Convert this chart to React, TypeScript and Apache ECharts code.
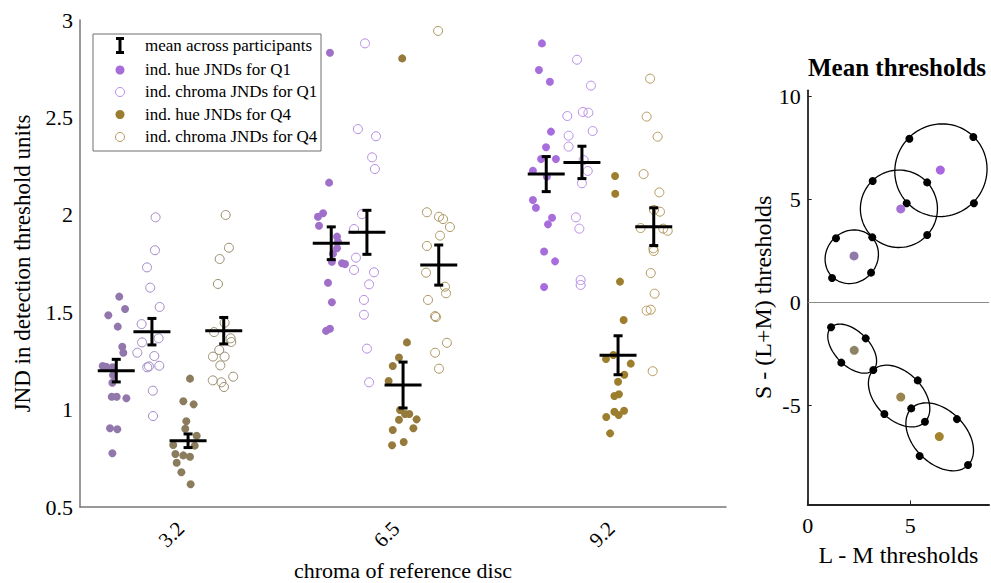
import React, { useEffect, useRef } from "react";
import * as echarts from "echarts";

// ---------------- DATA ----------------
const categories = ["3.2", "6.5", "9.2"];

// individual JNDs: per chroma category, pairs of [horizontal jitter, JND value]
const hueQ1 = [
  [[-0.236, 1.58], [-0.209, 1.516], [-0.287, 1.484], [-0.243, 1.426], [-0.222, 1.323], [-0.217, 1.292], [-0.313, 1.224], [-0.297, 1.22], [-0.267, 1.217], [-0.268, 1.138], [-0.271, 1.066], [-0.248, 1.066], [-0.203, 1.058], [-0.279, 0.904], [-0.245, 0.899], [-0.268, 0.776], [-0.265, 1.177]],
  [[-0.256, 2.832], [-0.26, 2.165], [-0.288, 2.008], [-0.312, 1.99], [-0.307, 1.944], [-0.223, 1.888], [-0.219, 1.862], [-0.223, 1.828], [-0.242, 1.8], [-0.247, 1.759], [-0.2, 1.751], [-0.186, 1.747], [-0.265, 1.651], [-0.247, 1.551], [-0.274, 1.404], [-0.256, 1.415]],
  [[-0.27, 2.88], [-0.284, 2.743], [-0.233, 2.683], [-0.228, 2.427], [-0.251, 2.347], [-0.274, 2.286], [-0.205, 2.286], [-0.312, 2.226], [-0.247, 2.196], [-0.312, 2.076], [-0.298, 2.036], [-0.223, 1.985], [-0.242, 1.951], [-0.26, 1.812], [-0.209, 1.761], [-0.26, 1.629]],
];
const chromaQ1 = [
  [[-0.067, 1.987], [-0.07, 1.818], [-0.107, 1.73], [-0.092, 1.626], [-0.048, 1.527], [-0.132, 1.439], [-0.13, 1.345], [-0.053, 1.366], [-0.152, 1.292], [-0.073, 1.275], [-0.106, 1.217], [-0.05, 1.225], [-0.08, 1.097], [-0.079, 0.967], [-0.098, 1.222]],
  [[-0.093, 2.88], [-0.126, 2.44], [-0.042, 2.403], [-0.06, 2.295], [-0.047, 2.235], [-0.107, 2.003], [-0.144, 1.927], [-0.135, 1.78], [-0.144, 1.717], [-0.051, 1.705], [-0.074, 1.643], [-0.098, 1.563], [-0.098, 1.487], [-0.084, 1.313], [-0.074, 1.14]],
  [[-0.107, 2.796], [-0.042, 2.663], [-0.152, 2.507], [-0.08, 2.528], [-0.054, 2.524], [-0.146, 2.406], [-0.034, 2.43], [-0.146, 2.35], [-0.076, 2.281], [-0.057, 2.225], [-0.084, 2.162], [-0.112, 1.987], [-0.096, 1.929], [-0.09, 1.665], [-0.09, 1.64]],
];
const hueQ4 = [
  [[0.093, 1.159], [0.062, 1.043], [0.11, 1.027], [0.076, 0.94], [0.071, 0.902], [0.124, 0.866], [0.015, 0.818], [0.115, 0.815], [0.025, 0.772], [0.062, 0.765], [0.093, 0.758], [0.031, 0.727], [0.053, 0.678], [0.096, 0.617]],
  [[0.08, 2.803], [0.102, 1.345], [0.065, 1.267], [0.036, 1.224], [0.017, 1.147], [0.07, 0.998], [0.113, 0.977], [0.093, 0.977], [0.065, 0.948], [0.147, 0.95], [0.036, 0.895], [0.132, 0.904], [0.033, 0.817], [0.087, 0.834]],
  [[0.07, 2.199], [0.071, 2.108], [0.093, 1.657], [0.11, 1.46], [0.062, 1.28], [0.028, 1.26], [0.143, 1.236], [0.113, 1.179], [0.084, 1.143], [0.088, 1.079], [0.067, 1.07], [0.067, 0.989], [0.112, 0.994], [0.087, 0.972], [0.029, 0.962], [0.047, 0.878]],
];
const chromaQ4 = [
  [[0.259, 1.999], [0.274, 1.831], [0.231, 1.773], [0.223, 1.645], [0.254, 1.446], [0.205, 1.398], [0.282, 1.366], [0.285, 1.347], [0.229, 1.306], [0.2, 1.272], [0.254, 1.272], [0.234, 1.227], [0.199, 1.15], [0.239, 1.14], [0.251, 1.116], [0.294, 1.169]],
  [[0.247, 2.944], [0.195, 2.013], [0.251, 1.99], [0.27, 1.978], [0.302, 1.937], [0.256, 1.893], [0.195, 1.84], [0.191, 1.703], [0.279, 1.631], [0.284, 1.597], [0.2, 1.563], [0.233, 1.48], [0.237, 1.475], [0.288, 1.343], [0.233, 1.292], [0.251, 1.21]],
  [[0.233, 2.699], [0.217, 2.504], [0.268, 2.401], [0.203, 2.209], [0.276, 2.115], [0.251, 2.025], [0.279, 2.016], [0.189, 1.932], [0.294, 1.929], [0.315, 1.918], [0.248, 1.828], [0.25, 1.814], [0.236, 1.701], [0.254, 1.595], [0.217, 1.508], [0.236, 1.513], [0.245, 1.197]],
];

// means across participants and error-bar half lengths, per category
const meanHueQ1 = [1.2, 1.854, 2.209];
const errHueQ1 = [0.058, 0.084, 0.09];
const meanChromaQ1 = [1.4, 1.91, 2.269];
const errChromaQ1 = [0.068, 0.113, 0.083];
const meanHueQ4 = [0.84, 1.126, 1.279];
const errHueQ4 = [0.035, 0.118, 0.1];
const meanChromaQ4 = [1.405, 1.742, 1.939];
const errChromaQ4 = [0.068, 0.103, 0.097];
// offsets of the four groups within a category
const groupOffsets = [-0.25, -0.084, 0.084, 0.25];

// right panel: mean thresholds
const q1Centers = [[2.26, 2.26], [4.54, 4.54], [6.47, 6.43]];
const q4Centers = [[2.27, -2.32], [4.54, -4.59], [6.42, -6.51]];
// [cx, cy, semi-axis a, semi-axis b, angle in degrees]
const q1Ellipses = [[2.15, 2.22, 1.36, 1.24, 45], [4.45, 4.55, 1.88, 1.88, 45], [6.5, 6.42, 2.28, 2.22, 45]];
const q4Ellipses = [[2.17, -2.24, 1.46, 0.84, -45], [4.46, -4.54, 1.78, 1.15, -45], [6.44, -6.52, 1.95, 1.28, -45]];
const q1ThresholdPoints = [[1.38, 3.12], [1.19, 1.19], [3.09, 1.45], [3.15, 3.17], [3.17, 5.9], [5.83, 5.83], [5.83, 3.28], [4.96, 7.95], [8.08, 8.03], [4.83, 4.82], [8.11, 4.82]];
const q4ThresholdPoints = [[1.14, -1.2], [2.83, -1.74], [1.64, -2.92], [3.2, -3.28], [5.37, -3.78], [3.74, -5.41], [5.72, -5.79], [5.05, -5.14], [7.28, -5.66], [5.46, -7.45], [7.82, -7.89]];

const leftYTicks = [0.5, 1, 1.5, 2, 2.5, 3];
const rightXTicks = [0, 5];
const rightYTicks = [-5, 0, 5, 10];

// ---------------- STYLE ----------------
const FONT = "Liberation Serif";
const hueQ1Colors = ["#9277ad", "#9f6fc9", "#a86ddd"];
const chromaQ1Colors = ["#a187c6", "#b58be2", "#b98de8"];
const hueQ4Colors = ["#8a7c5c", "#957a3c", "#9c7e2c"];
const chromaQ4Colors = ["#9a8c6c", "#ad9660", "#b4985a"];
const q1CenterColors = ["#8e7aa8", "#a472d4", "#a866e0"];
const q4CenterColors = ["#8d8466", "#9a8450", "#a3842e"];

function pointsData(groups: number[][][], colors: string[], open: boolean) {
  const out: any[] = [];
  groups.forEach((g, gi) => {
    g.forEach(([dx, v]) => {
      out.push({
        value: [gi + 1 + dx, v],
        itemStyle: open
          ? { color: "rgba(0,0,0,0)", borderColor: colors[gi], borderWidth: 1, opacity: 1 }
          : { color: colors[gi], opacity: 1 },
      });
    });
  });
  return out;
}

function meanData() {
  const out: number[][] = [];
  const sets = [
    [meanHueQ1, errHueQ1],
    [meanChromaQ1, errChromaQ1],
    [meanHueQ4, errHueQ4],
    [meanChromaQ4, errChromaQ4],
  ];
  for (let c = 0; c < categories.length; c++) {
    sets.forEach(([m, e], k) => out.push([c + 1 + groupOffsets[k], m[c], e[c]]));
  }
  return out;
}

function serifLabel(size: number, extra: any = {}) {
  return {
    color: "#000",
    fontFamily: FONT,
    fontSize: size,
    formatter: (v: any) => "{s|" + v + "}",
    rich: { s: { fontFamily: FONT, fontSize: size, color: "#000" } },
    ...extra,
  };
}

export default function App() {
  const ref = useRef<HTMLDivElement>(null);
  useEffect(() => {
    document.body.style.margin = "0";
    const chart = echarts.init(ref.current!, null, { renderer: "svg" });
    const option: any = {
      animation: false,
      backgroundColor: "#fff",
      textStyle: { fontFamily: FONT },
      grid: [
        { left: 80, top: 20, width: 646, height: 487, containLabel: false, outerBoundsMode: "none" },
        { left: 807.7, top: 90.3, width: 181.4, height: 414.1, containLabel: false, outerBoundsMode: "none" },
      ],
      xAxis: [
        {
          type: "category",
          gridIndex: 0,
          data: categories,
          boundaryGap: true,
          axisLine: { onZero: false, lineStyle: { color: "#777", width: 1.5 } },
          axisTick: { show: false },
          axisLabel: serifLabel(21, { rotate: 45, margin: 11, padding: [0, 10, 0, 0] }),
          name: "chroma of reference disc",
          nameLocation: "middle",
          nameGap: 52,
          nameTextStyle: { fontFamily: FONT, fontSize: 22, color: "#000", lineHeight: 22 },
        },
        { type: "value", gridIndex: 0, min: 0.5814, max: 3.5861, show: false },
        {
          type: "value",
          gridIndex: 1,
          min: 0,
          max: 8.85,
          splitLine: { show: false },
          axisLine: { onZero: false, lineStyle: { color: "#222", width: 1.8 } },
          axisTick: { show: true, inside: true, length: 4, customValues: rightXTicks, lineStyle: { color: "#222" } },
          axisLabel: serifLabel(22, { margin: 10, customValues: rightXTicks }),
          name: "L - M thresholds",
          nameLocation: "middle",
          nameGap: 39,
          nameTextStyle: { fontFamily: FONT, fontSize: 24, color: "#000" },
        },
      ],
      yAxis: [
        {
          type: "value",
          gridIndex: 0,
          min: 0.5,
          max: 3,
          interval: 0.5,
          splitLine: { show: false },
          axisLine: { show: true, onZero: false, lineStyle: { color: "#777", width: 1.5 } },
          axisTick: { show: false },
          axisLabel: serifLabel(22, { margin: 7, customValues: leftYTicks }),
          name: "JND in detection threshold units",
          nameLocation: "middle",
          nameRotate: 90,
          nameGap: 46,
          nameTextStyle: { fontFamily: FONT, fontSize: 23, color: "#000" },
        },
        {
          type: "value",
          gridIndex: 1,
          min: -9.8,
          max: 10.3,
          splitLine: { show: false },
          axisLine: { show: true, onZero: false, lineStyle: { color: "#222", width: 1.8 } },
          axisTick: { show: true, inside: true, length: 4, customValues: rightYTicks, lineStyle: { color: "#222" } },
          axisLabel: serifLabel(22, { margin: 7, customValues: rightYTicks }),
          name: "S - (L+M) thresholds",
          nameLocation: "middle",
          nameRotate: 90,
          nameGap: 24,
          nameTextStyle: { fontFamily: FONT, fontSize: 24, color: "#000" },
        },
      ],
      graphic: [
        {
          type: "text",
          x: 897,
          y: 67,
          style: { text: "Mean thresholds", fontFamily: FONT, fontSize: 25, fontWeight: "bold", fill: "#000", align: "center", verticalAlign: "middle" },
        },
        {
          type: "group",
          z: 100,
          children: [
            { type: "rect", shape: { x: 93, y: 34, width: 228, height: 117 }, style: { fill: "#fff", stroke: "#6e6e6e", lineWidth: 1 } },
            { type: "line", shape: { x1: 120, y1: 38.5, x2: 120, y2: 52.5 }, style: { stroke: "#000", lineWidth: 3 } },
            { type: "line", shape: { x1: 116, y1: 38.5, x2: 124, y2: 38.5 }, style: { stroke: "#000", lineWidth: 3 } },
            { type: "line", shape: { x1: 116, y1: 52.5, x2: 124, y2: 52.5 }, style: { stroke: "#000", lineWidth: 3 } },
            { type: "circle", shape: { cx: 120, cy: 70, r: 4.5 }, style: { fill: "#a66cd9" } },
            { type: "circle", shape: { cx: 120, cy: 92, r: 4.5 }, style: { fill: "none", stroke: "#b98de8", lineWidth: 1 } },
            { type: "circle", shape: { cx: 120, cy: 114.5, r: 4.5 }, style: { fill: "#9a7d30" } },
            { type: "circle", shape: { cx: 120, cy: 137, r: 4.5 }, style: { fill: "none", stroke: "#b4985a", lineWidth: 1 } },
            ...[
              ["mean across participants", 45],
              ["ind. hue JNDs for Q1", 69],
              ["ind. chroma JNDs for Q1", 91.5],
              ["ind. hue JNDs for Q4", 114],
              ["ind. chroma JNDs for Q4", 136.5],
            ].map(([t, y]) => ({
              type: "text",
              x: 145,
              y: y as number,
              style: { text: t as string, fontFamily: FONT, fontSize: 17, fill: "#000", align: "left", verticalAlign: "middle" },
            })),
          ],
        },
      ],
      series: [
        {
          name: "ind. hue JNDs for Q1",
          type: "scatter",
          xAxisIndex: 1,
          yAxisIndex: 0,
          symbolSize: 8,
          itemStyle: { color: "#a66cd9", opacity: 1 },
          data: pointsData(hueQ1, hueQ1Colors, false),
        },
        {
          name: "ind. chroma JNDs for Q1",
          type: "scatter",
          xAxisIndex: 1,
          yAxisIndex: 0,
          symbolSize: 9,
          itemStyle: { opacity: 1 },
          data: pointsData(chromaQ1, chromaQ1Colors, true),
        },
        {
          name: "ind. hue JNDs for Q4",
          type: "scatter",
          xAxisIndex: 1,
          yAxisIndex: 0,
          symbolSize: 8,
          itemStyle: { color: "#9a7d30", opacity: 1 },
          data: pointsData(hueQ4, hueQ4Colors, false),
        },
        {
          name: "ind. chroma JNDs for Q4",
          type: "scatter",
          xAxisIndex: 1,
          yAxisIndex: 0,
          symbolSize: 9,
          itemStyle: { opacity: 1 },
          data: pointsData(chromaQ4, chromaQ4Colors, true),
        },
        {
          name: "mean across participants",
          type: "custom",
          coordinateSystem: "cartesian2d",
          xAxisIndex: 1,
          yAxisIndex: 0,
          encode: { x: 0, y: 1 },
          z: 10,
          data: meanData(),
          renderItem: (params: any, api: any) => {
            const x = api.value(0);
            const m = api.value(1);
            const e = api.value(2);
            const c = api.coord([x, m]);
            const t = api.coord([x, m + e]);
            const b = api.coord([x, m - e]);
            const st = { stroke: "#000", lineWidth: 3 };
            return {
              type: "group",
              children: [
                { type: "line", shape: { x1: c[0] - 18.5, y1: c[1], x2: c[0] + 18.5, y2: c[1] }, style: st },
                { type: "line", shape: { x1: c[0], y1: t[1], x2: c[0], y2: b[1] }, style: st },
                { type: "line", shape: { x1: c[0] - 4.5, y1: t[1], x2: c[0] + 4.5, y2: t[1] }, style: st },
                { type: "line", shape: { x1: c[0] - 4.5, y1: b[1], x2: c[0] + 4.5, y2: b[1] }, style: st },
              ],
            };
          },
        },
        {
          name: "threshold ellipses",
          type: "custom",
          coordinateSystem: "cartesian2d",
          xAxisIndex: 2,
          yAxisIndex: 1,
          encode: { x: 0, y: 1 },
          data: [...q1Ellipses, ...q4Ellipses],
          renderItem: (params: any, api: any) => {
            const cx = api.value(0);
            const cy = api.value(1);
            const a = api.value(2);
            const b = api.value(3);
            const ang = (api.value(4) * Math.PI) / 180;
            const pts: number[][] = [];
            for (let i = 0; i <= 90; i++) {
              const t = (2 * Math.PI * i) / 90;
              const x = cx + a * Math.cos(t) * Math.cos(ang) - b * Math.sin(t) * Math.sin(ang);
              const y = cy + a * Math.cos(t) * Math.sin(ang) + b * Math.sin(t) * Math.cos(ang);
              pts.push(api.coord([x, y]));
            }
            return { type: "polyline", shape: { points: pts }, style: { fill: "none", stroke: "#000", lineWidth: 1.3 } };
          },
        },
        {
          name: "thresholds",
          type: "scatter",
          xAxisIndex: 2,
          yAxisIndex: 1,
          symbolSize: 8,
          itemStyle: { color: "#000", opacity: 1 },
          data: [...q1ThresholdPoints, ...q4ThresholdPoints],
          markLine: {
            silent: true,
            symbol: "none",
            label: { show: false },
            lineStyle: { color: "#8a8a8a", width: 1, type: "solid" },
            data: [{ yAxis: 0 }],
          },
        },
        {
          name: "reference",
          type: "scatter",
          xAxisIndex: 2,
          yAxisIndex: 1,
          symbolSize: 9,
          itemStyle: { opacity: 1 },
          data: [
            ...q1Centers.map((p, i) => ({ value: p, itemStyle: { color: q1CenterColors[i], opacity: 1 } })),
            ...q4Centers.map((p, i) => ({ value: p, itemStyle: { color: q4CenterColors[i], opacity: 1 } })),
          ],
        },
      ],
    };
    chart.setOption(option);
    return () => chart.dispose();
  }, []);
  return <div ref={ref} style={{ position: "absolute", left: 0, top: 0, width: 991, height: 583 }} />;
}
